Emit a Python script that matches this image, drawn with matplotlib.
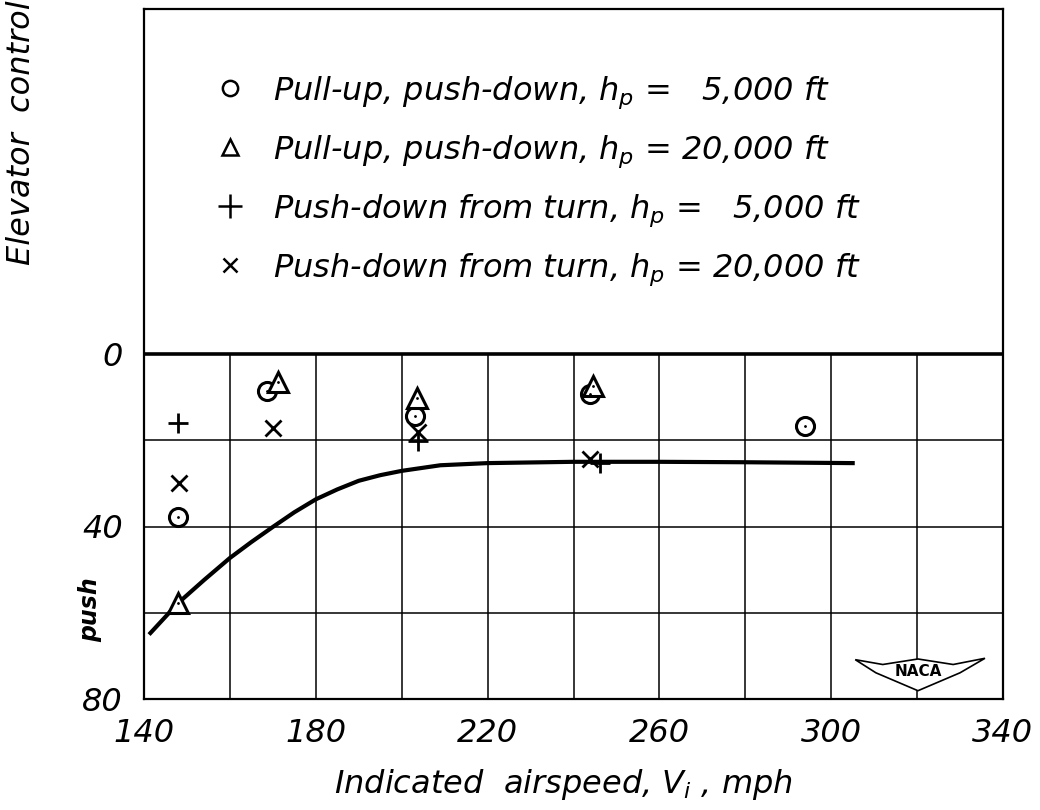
import numpy as np
import matplotlib
matplotlib.use('Agg')
import matplotlib.pyplot as plt
from matplotlib.patches import Polygon

plt.rcParams['font.family'] = ['DejaVu Sans']
plt.rcParams['font.style'] = 'italic'
plt.rcParams['mathtext.fontset'] = 'dejavusans'

# data (x: indicated airspeed, mph; y: elevator push force, lb)
circle_x = [148.0, 168.6, 203.1, 243.8, 293.9]
circle_y = [37.7, 8.5, 14.3, 9.3, 16.7]
tri_x = [148.0, 171.2, 203.5, 244.6]
tri_y = [57.7, 6.5, 10.1, 7.4]
plus_x = [147.8, 203.8, 246.2]
plus_y = [16.0, 20.2, 25.2]
cross_x = [148.1, 170.0, 203.9, 243.8]
cross_y = [29.8, 17.2, 18.2, 24.4]

# faired curve
curve_x = [141.5, 148, 154, 160, 165, 170, 175, 180, 185, 190, 195, 200, 209, 220, 240, 260, 280, 305]
curve_y = [64.7, 57.7, 52.4, 47.3, 43.6, 40.1, 36.7, 33.7, 31.4, 29.4, 28.1, 27.1, 25.8, 25.3, 25.0, 25.0, 25.1, 25.3]

labels = [r'Pull-up, push-down, $h_p$ =   5,000 ft',
          r'Pull-up, push-down, $h_p$ = 20,000 ft',
          r'Push-down from turn, $h_p$ =   5,000 ft',
          r'Push-down from turn, $h_p$ = 20,000 ft']

x_ticks = [140, 180, 220, 260, 300, 340]
y_ticks = [0, 40, 80]
grid_x = [160, 180, 200, 220, 240, 260, 280, 300, 320]
grid_y = [20, 40, 60]

fig = plt.figure(figsize=(10.4, 8.1), dpi=100)
ax = fig.add_axes([144 / 1040, 1 - 699 / 810, 859 / 1040, 690 / 810])
ax.set_xlim(140, 340)
ax.set_ylim(80, -80)

# grid only in the plotted region below zero
ax.vlines(grid_x, 0, 80, color='black', lw=1.1, zorder=1)
ax.hlines(grid_y, 140, 340, color='black', lw=1.1, zorder=1)
ax.axhline(0, color='black', lw=2.6, zorder=2)

ax.plot(curve_x, curve_y, color='black', lw=3.0, zorder=3)

ms = 13
h1, = ax.plot(circle_x, circle_y, 'o', mfc='white', mec='black', mew=2.2, ms=ms, zorder=4)
h2, = ax.plot(tri_x, tri_y, '^', mfc='white', mec='black', mew=2.2, ms=ms + 1, zorder=4)
h3, = ax.plot(plus_x, plus_y, '+', color='black', mew=2.0, ms=ms + 2, zorder=5)
h4, = ax.plot(cross_x, cross_y, 'x', color='black', mew=2.0, ms=ms - 2, zorder=5)
ax.plot(circle_x + tri_x, circle_y + tri_y, '.', color='black', ms=2, zorder=6)

leg = ax.legend([h1, h2, h3, h4], labels, loc='upper left', bbox_to_anchor=(0.0815, 0.905),
                frameon=False, fontsize=23, handlelength=1.0, handletextpad=0.85,
                borderpad=0, borderaxespad=0, labelspacing=0.7)
for hd, s in zip(leg.legend_handles, [11, 11, 17, 9.5]):
    hd.set_markersize(s)
    hd.set_markeredgewidth(1.8)

ax.set_xticks(x_ticks)
ax.set_yticks(y_ticks)
ax.set_xticklabels([str(v) for v in x_ticks])
ax.set_yticklabels([str(v) for v in y_ticks])
ax.tick_params(length=0, labelsize=23, pad=14)
ax.tick_params(axis='y', pad=15)
for sp in ax.spines.values():
    sp.set_linewidth(1.6)

# NACA wing logo
wing = Polygon([[0.828, 0.057], [0.86, 0.05], [0.901, 0.058], [0.942, 0.05], [0.979, 0.059],
                [0.95, 0.038], [0.901, 0.012], [0.852, 0.038]],
               closed=True, transform=ax.transAxes, facecolor='white', edgecolor='black',
               lw=1.2, zorder=7)
ax.add_patch(wing)
ax.text(0.901, 0.04, 'NACA', transform=ax.transAxes, ha='center', va='center',
        fontsize=11, fontweight='bold', style='normal', zorder=8)

fig.text(22 / 1040, 1 - 265 / 810, 'Elevator  control', rotation=90, ha='center', va='bottom',
         fontsize=23)
fig.text(90 / 1040, 1 - 610 / 810, 'push', rotation=90, ha='center', va='center',
         fontsize=17, fontweight='bold')
fig.text(563 / 1040, 1 - 793 / 810, r'Indicated  airspeed, $V_i$ , mph', ha='center', va='baseline',
         fontsize=23)

fig.savefig('out.png', dpi=100)
